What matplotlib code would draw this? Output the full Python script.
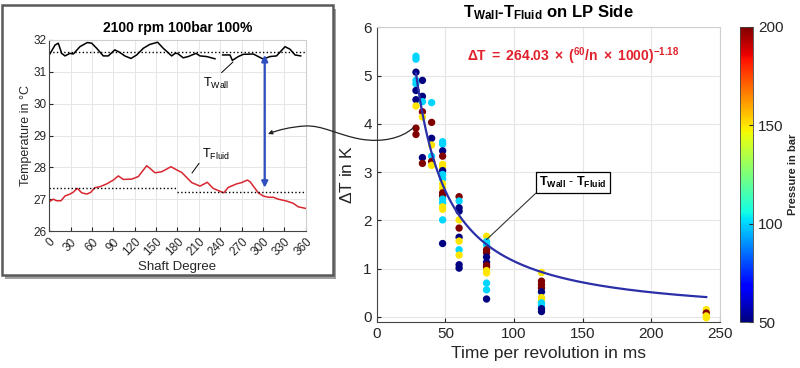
import numpy as np
import matplotlib
matplotlib.use('Agg')
import matplotlib.pyplot as plt
from matplotlib.patches import Rectangle, FancyArrowPatch
from matplotlib.path import Path

plt.rcParams['font.family'] = ['Liberation Sans', 'DejaVu Sans']
plt.rcParams['mathtext.fontset'] = 'custom'
plt.rcParams['mathtext.rm'] = 'Liberation Sans'
plt.rcParams['mathtext.it'] = 'Liberation Sans:italic'
plt.rcParams['mathtext.bf'] = 'Liberation Sans:bold'

# ---- left panel: temperatures over one revolution ----
wall_deg = [0, 8, 12.6, 17.4, 22, 29, 33.7, 43, 53.4, 59.5, 66.5, 75.8, 82.8, 92, 99, 106,
            114.7, 122.7, 132, 141, 152, 160, 171.8, 176.5, 180, 188, 195, 206, 211.6, 221,
            232.6, 238, 243.4, 253.7, 257, 265.4, 272.4, 286.4, 293.4, 300.4, 309.8, 319,
            331, 338, 345, 353]
wall_T = [31.53, 31.84, 31.9, 31.58, 31.5, 31.58, 31.56, 31.79, 31.92, 31.9, 31.74, 31.5,
          31.5, 31.69, 31.61, 31.5, 31.42, 31.53, 31.74, 31.86, 31.93, 31.74, 31.5, 31.58,
          31.58, 31.44, 31.48, 31.58, 31.5, 31.48, 31.41, np.nan, 31.53, 31.53, 31.36, 31.48,
          31.55, 31.56, 31.48, 31.4, 31.48, 31.5, 31.79, 31.71, 31.53, 31.5]

fluid_deg = [0, 5.6, 10.3, 16.4, 22, 29, 33.7, 39.3, 45.5, 52.5, 58, 64, 71, 80.6, 89.9, 96.9,
             104, 115.7, 125, 136.7, 141.3, 148.3, 157.8, 170.8, 178.8, 185.9, 200, 211.6,
             221.8, 230, 237.3, 245, 251.3, 263, 270, 278, 281.8, 293.4, 300.4, 307.4, 314.5,
             321.5, 333.3, 342.5, 349.5, 360]
fluid_T = [26.92, 27.0, 26.95, 26.95, 27.1, 27.16, 27.22, 27.34, 27.2, 27.16, 27.21, 27.36,
           27.39, 27.48, 27.6, 27.73, 27.62, 27.63, 27.71, 28.05, 27.97, 27.83, 27.86, 28.02,
           27.92, 27.84, 27.52, 27.41, 27.53, 27.34, 27.27, 27.2, 27.37, 27.48, 27.52, 27.6,
           27.55, 27.2, 27.1, 27.06, 27.06, 27.0, 26.94, 26.87, 26.76, 26.71]

wall_mean = 31.63
fluid_mean_1 = 27.34   # 0..180
fluid_mean_2 = 27.21   # 180..360

# ---- right panel: delta T vs time per revolution ----
t_ms = [28.6, 33.3, 40, 48, 60, 80, 120, 240]
dT = [
    [5.40, 5.34, 5.07, 4.90, 4.83, 4.69, 4.50, 4.37, 3.91, 3.78],
    [4.90, 4.57, 4.46, 4.25, 4.14, 3.30, 3.18],
    [4.44, 4.03, 3.70, 3.56, 3.33, 3.22, 3.14],
    [3.63, 3.58, 3.44, 3.33, 3.16, 3.10, 3.03, 2.95, 2.86, 2.76, 2.67, 2.57, 2.51, 2.44,
     2.36, 2.28, 2.23, 2.01, 1.52],
    [2.49, 2.40, 2.26, 2.19, 2.01, 1.84, 1.65, 1.57, 1.39, 1.28, 1.08, 1.01],
    [1.67, 1.56, 1.49, 1.39, 1.33, 1.24, 1.13, 1.07, 1.03, 0.96, 0.91, 0.70, 0.56, 0.37],
    [0.92, 0.74, 0.67, 0.60, 0.52, 0.40, 0.35, 0.29, 0.23, 0.17, 0.11],
    [0.15, 0.08, 0.02, -0.02],
]
pressure = [
    [100, 100, 50, 100, 100, 50, 50, 150, 200, 200],
    [50, 50, 100, 200, 150, 50, 200],
    [100, 200, 50, 150, 100, 200, 150],
    [100, 100, 50, 200, 150, 150, 50, 100, 100, 150, 150, 200, 200, 100, 100, 150, 150, 100, 50],
    [200, 100, 50, 50, 150, 200, 50, 150, 100, 150, 50, 50],
    [150, 100, 100, 200, 200, 50, 50, 200, 200, 150, 150, 100, 100, 50],
    [150, 200, 200, 200, 50, 150, 150, 100, 100, 50, 50],
    [150, 200, 150, 150],
]

# fit shown in the chart: dT = a * t^b
fit_a = 264.03
fit_b = -1.18

x_pts = np.concatenate([[t] * len(v) for t, v in zip(t_ms, dT)])
y_pts = np.concatenate(dT)
c_pts = np.concatenate(pressure)

W, H = 800, 368
fig = plt.figure(figsize=(8, 3.68), dpi=100)

def px(x, y):
    return (x / W, 1 - y / H)

dark = '#262626'
light = '#cfcfcf'
gridc = '#e6e6e6'

# left panel frame (inset picture)
shadow = Rectangle(px(5, 279), 331 / W, 270 / H, transform=fig.transFigure,
                   fc='#a0a0a0', ec='none', zorder=-2)
frame = Rectangle(px(2, 275), 331 / W, 270 / H, transform=fig.transFigure,
                  fc='white', ec='#5a5a5a', lw=1.8, zorder=-1)
fig.add_artist(shadow)
fig.add_artist(frame)

# ---------- left axes ----------
ax1 = fig.add_axes([49.3 / W, 1 - 231 / H, 256.4 / W, 191 / H])
ax1.plot(wall_deg, wall_T, color='black', lw=1.1)
ax1.plot(fluid_deg, fluid_T, color='#d7262f', lw=1.1)
ax1.plot([0, 360], [wall_mean, wall_mean], color='black', ls=':', lw=1)
ax1.plot([0, 180], [fluid_mean_1, fluid_mean_1], color='black', ls=':', lw=1)
ax1.plot([180, 357], [fluid_mean_2, fluid_mean_2], color='black', ls=':', lw=1)
ax1.set_xlim(0, 360)
ax1.set_ylim(26, 32)
ax1.set_xticks(range(0, 361, 30))
ax1.set_yticks(range(26, 33))
ax1.tick_params(labelsize=8.5, direction='in', length=3, colors=dark)
ax1.tick_params(axis='y', pad=2)
plt.setp(ax1.get_xticklabels(), rotation=45, ha='right', rotation_mode='anchor')
ax1.grid(True, color=gridc, lw=0.7)
for s in ['left', 'bottom']:
    ax1.spines[s].set_color('#444444')
for s in ['top', 'right']:
    ax1.spines[s].set_color(light)
ax1.set_xlabel('Shaft Degree', fontsize=9.5, color=dark, labelpad=2)
ax1.set_ylabel('Temperature in °C', fontsize=9, color=dark, labelpad=1)
ax1.set_title('2100 rpm 100bar 100%', fontsize=10, fontweight='bold', pad=6)

ax1.annotate(r'$\mathrm{T_{Wall}}$', xy=(257.9, 31.31), xytext=(234, 30.65),
             fontsize=9, ha='center', va='center',
             arrowprops=dict(arrowstyle='-', color='black', lw=0.7, relpos=(0.6, 1.0),
                             shrinkA=0, shrinkB=0))
ax1.annotate(r'$\mathrm{T_{Fluid}}$', xy=(200.3, 27.82), xytext=(234, 28.39),
             fontsize=9, ha='center', va='center',
             arrowprops=dict(arrowstyle='-', color='black', lw=0.7, relpos=(0.0, 0.2),
                             shrinkA=0, shrinkB=0))
ax1.annotate('', xy=(302.5, 27.36), xytext=(302.5, 31.53),
             arrowprops=dict(arrowstyle='<|-|>', color='#2f4fc0', lw=1.6,
                             mutation_scale=9, shrinkA=0, shrinkB=0))

# ---------- right axes ----------
ax2 = fig.add_axes([376.7 / W, 1 - 321.7 / H, 343.3 / W, 294.4 / H])
sc = ax2.scatter(x_pts, y_pts, c=c_pts, cmap='jet', vmin=50, vmax=200, s=28,
                 linewidths=0, zorder=3)
t_fit = np.linspace(min(t_ms), max(t_ms), 300)
ax2.plot(t_fit, fit_a * t_fit ** fit_b, color='#2b2fa8', lw=1.6, zorder=4)
ax2.set_xlim(0, 250)
ax2.set_ylim(-0.1, 6)
ax2.set_xticks(range(0, 251, 50))
ax2.set_yticks(range(0, 7))
ax2.tick_params(labelsize=11, direction='in', length=3, colors=dark)
ax2.grid(True, color=gridc, lw=0.8)
for s in ['left', 'bottom']:
    ax2.spines[s].set_color('#444444')
for s in ['top', 'right']:
    ax2.spines[s].set_color(light)
ax2.set_xlabel('Time per revolution in ms', fontsize=12.5, color=dark, labelpad=4)
ax2.set_ylabel(r'$\Delta$T in K', fontsize=12.5, color=dark, labelpad=6)
ax2.set_title(r'$\mathbf{T_{Wall}}$-$\mathbf{T_{Fluid}}$ on LP Side', fontsize=12,
              fontweight='bold', pad=7)
ax2.text(143, 5.41,
         r'$\mathbf{\Delta T\ =\ 264.03\ \times\ (^{60}/n\ \times\ 1000)^{-1.18}}$',
         color='#e0202a', fontsize=10, ha='center', va='center')
ax2.annotate(r'$\mathbf{T_{Wall}}$ - $\mathbf{T_{Fluid}}$', xy=(80, 1.6), xytext=(143, 2.79),
             fontsize=9, ha='center', va='center', zorder=6,
             bbox=dict(boxstyle='square,pad=0.25', fc='white', ec='black', lw=0.9),
             arrowprops=dict(arrowstyle='-', color='#333333', lw=0.8, relpos=(0, 0),
                             shrinkA=0, shrinkB=0))

# colorbar
cax = fig.add_axes([740 / W, 1 - 322 / H, 13 / W, 295 / H])
cb = fig.colorbar(sc, cax=cax, ticks=[50, 100, 150, 200])
cb.ax.tick_params(labelsize=11, direction='in', length=3, colors=dark)
cb.outline.set_edgecolor('#444444')
cb.outline.set_linewidth(0.6)
cb.set_label('Pressure in bar', fontsize=8, fontweight='bold', color=dark, labelpad=3)

# curved connector from the right chart to the left panel
verts = [(413, 128), (402, 138), (382, 143), (360, 139),
         (338, 135), (322, 125), (305, 126),
         (290, 127), (278, 130), (268, 134)]
codes = [Path.MOVETO] + [Path.CURVE4] * 9
path = Path([px(x, y) for x, y in verts], codes)
conn = FancyArrowPatch(path=path, arrowstyle='-|>', mutation_scale=6, lw=0.9,
                       color='#222222', transform=fig.transFigure, zorder=10)
fig.add_artist(conn)

fig.savefig('out.png', dpi=100, facecolor='white')
